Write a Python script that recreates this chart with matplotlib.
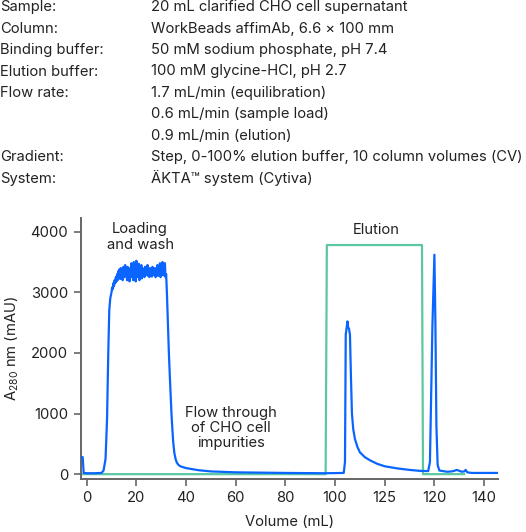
import matplotlib
matplotlib.use("Agg")
import matplotlib.pyplot as plt

plt.rcParams['font.family'] = ['Inter', 'DejaVu Sans']
plt.rcParams['mathtext.fontset'] = 'custom'
plt.rcParams['mathtext.rm'] = 'Inter'

# ---- data ----
header_keys = ["Sample:", "Column:", "Binding buffer:", "Elution buffer:", "Flow rate:", "", "",
               "Gradient:", "System:"]
header_vals = ["20 mL clarified CHO cell supernatant",
               "WorkBeads affimAb, 6.6 \u00d7 100 mm",
               "50 mM sodium phosphate, pH 7.4",
               "100 mM glycine-HCl, pH 2.7",
               "1.7 mL/min (equilibration)",
               "0.6 mL/min (sample load)",
               "0.9 mL/min (elution)",
               "Step, 0-100% elution buffer, 10 column volumes (CV)",
               "\u00c4KTA\u2122 system (Cytiva)"]

# UV trace in segments
rise_volume = [-2.4, -1.6, -1.2, 0, 3, 6, 6.8, 7.6, 8.2, 8.7, 9.1, 9.5]
rise_abs = [290, 280, 20, 15, 15, 20, 60, 250, 900, 2000, 2700, 2900]

plateau_volume = [10.0, 10.25, 10.5, 10.75, 11.0, 11.25, 11.5, 11.75, 12.0, 12.25, 12.5, 12.75,
                  13.0, 13.25, 13.5, 13.75, 14.0, 14.25, 14.5, 14.75, 15.0, 15.25, 15.5, 15.75,
                  16.0, 16.25, 16.5, 16.75, 17.0, 17.25, 17.5, 17.75, 18.0, 18.25, 18.5, 18.75,
                  19.0, 19.25, 19.5, 19.75, 20.0, 20.25, 20.5, 20.75, 21.0, 21.25, 21.5, 21.75,
                  22.0, 22.25, 22.5, 22.75, 23.0, 23.25, 23.5, 23.75, 24.0, 24.25, 24.5, 24.75,
                  25.0, 25.25, 25.5, 25.75, 26.0, 26.25, 26.5, 26.75, 27.0, 27.25, 27.5, 27.75,
                  28.0, 28.25, 28.5, 28.75, 29.0, 29.25, 29.5, 29.75, 30.0, 30.25, 30.5, 30.75,
                  31.0, 31.25, 31.5, 31.75, 32.0]
plateau_abs = [3000, 3080, 3050, 3150, 3100, 3200, 3150, 3250, 3180, 3300, 3200, 3350,
               3250, 3380, 3220, 3400, 3280, 3350, 3200, 3420, 3300, 3250, 3450, 3280,
               3380, 3200, 3420, 3300, 3350, 3180, 3400, 3300, 3480, 3250, 3450, 3200,
               3500, 3300, 3420, 3180, 3520, 3250, 3400, 3300, 3470, 3200, 3380, 3280,
               3450, 3230, 3400, 3300, 3350, 3250, 3420, 3280, 3380, 3300, 3450, 3270,
               3350, 3250, 3400, 3300, 3380, 3260, 3420, 3300, 3350, 3280, 3400, 3250,
               3380, 3300, 3450, 3270, 3350, 3300, 3480, 3250, 3400, 3300, 3500, 3280,
               3450, 3300, 3480, 3250, 3300]

flow_volume = [32.3, 32.7, 33.1, 33.6, 34.2, 34.8, 35.3, 35.8, 36.3, 37.0, 38.0, 40.0, 45.0,
               50.0, 60.0, 80.0, 96.0]
flow_abs = [3000, 2500, 2000, 1500, 950, 550, 350, 250, 190, 150, 125, 100, 65,
            45, 30, 20, 15]

peak1_volume = [103.5, 104.0, 104.3, 104.7, 105.0, 105.3, 105.6, 106.0, 106.4, 106.8, 107.3,
                108.0, 109.0, 110.0, 112.0, 114.0, 117.0, 120.0, 125.0, 130.0, 134.0]
peak1_abs = [20, 200, 2300, 2420, 2520, 2420, 2400, 2300, 1600, 1000, 750,
             580, 450, 360, 280, 230, 170, 130, 95, 70, 55]

peak2_volume = [137.5, 138.2, 138.8, 139.2, 139.6, 140.0, 140.4, 140.8, 141.3, 142.0, 145.0,
                147.0, 148.0, 149.0, 150.0, 151.0, 152.0, 152.6, 153.2, 155.0, 165.5]
peak2_abs = [50, 200, 1500, 2450, 3050, 3620, 2500, 800, 150, 60, 40,
             45, 55, 70, 55, 40, 45, 70, 30, 20, 20]

step_volume = [-2.4, 96.2, 96.7, 135.0, 135.4, 152.0]
step_level = [0, 0, 3780, 3780, 0, 0]

xtick_pos = [0, 20, 40, 60, 80, 100, 120, 140, 160]
xtick_labels = ["0", "20", "40", "60", "80", "100", "125", "120", "140"]
ytick_pos = [0, 1000, 2000, 3000, 4000]

uv_volume = rise_volume + plateau_volume + flow_volume + peak1_volume + peak2_volume
uv_abs = rise_abs + plateau_abs + flow_abs + peak1_abs + peak2_abs

# ---- figure ----
W, H = 526, 532
fig = plt.figure(figsize=(W / 100, H / 100), dpi=100)
text_color = "#222222"

# fit header font size so the longest value line spans ~371 px (as in the reference)
renderer = fig.canvas.get_renderer()
probe = fig.text(0, 0, header_vals[7], fontsize=10.5)
wpx = probe.get_window_extent(renderer=renderer).width
probe.remove()
fs = 10.5 * 371.0 / wpx

y0 = 7.3
dy = 21.4
for i, (k, v) in enumerate(zip(header_keys, header_vals)):
    yy = 1 - (y0 + i * dy) / H
    fig.text(0.5 / W, yy, k, fontsize=fs, color=text_color, va='center', ha='left')
    fig.text(151 / W, yy, v, fontsize=fs, color=text_color, va='center', ha='left')

ax = fig.add_axes([80.7 / W, 1 - 479 / H, (498 - 80.7) / W, (479 - 218) / H])
ax.plot(step_volume, step_level, color="#5cc8a0", lw=1.6, zorder=2)
ax.plot(uv_volume, uv_abs, color="#0a64ff", lw=1.6, zorder=3)

ax.set_xlim(-2.4, 165.6)
ax.set_ylim(-80, 4226)
ax.set_xticks(xtick_pos)
ax.set_xticklabels(xtick_labels)
ax.set_yticks(ytick_pos)
for s in ['top', 'right']:
    ax.spines[s].set_visible(False)
for s in ['left', 'bottom']:
    ax.spines[s].set_color("#666666")
    ax.spines[s].set_linewidth(1.4)
ax.tick_params(axis='both', length=5, width=1.2, color="#666666", labelsize=fs,
               labelcolor=text_color, pad=4)

ax.set_xlabel("Volume (mL)", fontsize=fs, color=text_color, labelpad=7)
ax.set_ylabel(r"A$_\mathregular{280}$ nm (mAU)", fontsize=fs, color=text_color, labelpad=7)

ax.text(21.5, 3913, "Loading\nand wash", ha='center', va='center', fontsize=fs,
        color=text_color, linespacing=1.1)
ax.text(58.0, 763, "Flow through\nof CHO cell\nimpurities", ha='center', va='center',
        fontsize=fs, color=text_color, linespacing=1.1)
ax.text(116.5, 4030, "Elution", ha='center', va='center', fontsize=fs, color=text_color)

fig.savefig("out.png", dpi=100)
